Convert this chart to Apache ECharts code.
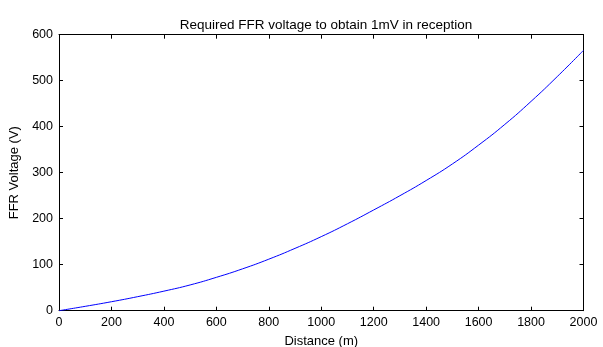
<!DOCTYPE html>
<html>
<head>
<meta charset="utf-8">
<script src="https://cdn.jsdelivr.net/npm/echarts@6/dist/echarts.min.js"></script>
<style>
html,body{margin:0;padding:0;background:#fff;}
#c{width:603px;height:347px;}
</style>
</head>
<body>
<div id="c"></div>
<script>
var distances = [0,100,200,300,400,500,600,700,800,900,1000,1100,1200,1300,1400,1500,1600,1700,1800,1900,2000];
var voltages  = [0,9.5,19.5,30.5,42.5,56,72.5,91,112,135.5,161,189,219,250,283,319,360,405,455,509,566];
var xTicks = {min:0, max:2000, interval:200};
var yTicks = {min:0, max:600, interval:100};
var titleText = 'Required FFR voltage to obtain 1mV in reception';
var xName = 'Distance (m)';
var yName = 'FFR Voltage (V)';

var font = 'Liberation Sans, Arial, sans-serif';
var chart = echarts.init(document.getElementById('c'), null, {renderer:'canvas'});
var pts = distances.map(function(d,i){return [d, voltages[i]];});
function plain(v){ return String(v); }
function ax(extra){
  var base = {
    type:'value',
    axisLine:{show:true, onZero:false, lineStyle:{color:'#000', width:1}},
    axisTick:{show:true, inside:true, length:4, lineStyle:{color:'#000'}},
    splitLine:{show:false},
    nameTextStyle:{color:'#000', fontFamily:font, fontSize:13}
  };
  for (var k in extra) base[k] = extra[k];
  return base;
}
chart.setOption({
  animation:false,
  title:{text:titleText, left:321, top:13, textAlign:'center',
    textStyle:{fontFamily:font, fontSize:13.5, fontWeight:'normal', color:'#000'}},
  grid:{left:59, right:19.5, top:34.7, bottom:36.3, containLabel:false, outerBoundsMode:'none'},
  xAxis:[
    ax({position:'bottom', min:xTicks.min, max:xTicks.max, interval:xTicks.interval,
        name:xName, nameLocation:'middle', nameGap:24,
        axisLabel:{color:'#000', fontFamily:font, fontSize:12.5, margin:5, formatter:plain, showMaxLabel:true, showMinLabel:true}}),
    ax({position:'top', min:xTicks.min, max:xTicks.max, interval:xTicks.interval,
        axisLabel:{show:false}})
  ],
  yAxis:[
    ax({position:'left', min:yTicks.min, max:yTicks.max, interval:yTicks.interval,
        name:yName, nameLocation:'middle', nameGap:32, nameRotate:90,
        axisLabel:{color:'#000', fontFamily:font, fontSize:12.5, margin:6, formatter:plain}}),
    ax({position:'right', min:yTicks.min, max:yTicks.max, interval:yTicks.interval,
        axisLabel:{show:false}})
  ],
  series:[{
    type:'line', data:pts, smooth:true, showSymbol:false, symbol:'none',
    xAxisIndex:0, yAxisIndex:0,
    lineStyle:{color:'#0000ff', width:1}
  }]
});
</script>
</body>
</html>
